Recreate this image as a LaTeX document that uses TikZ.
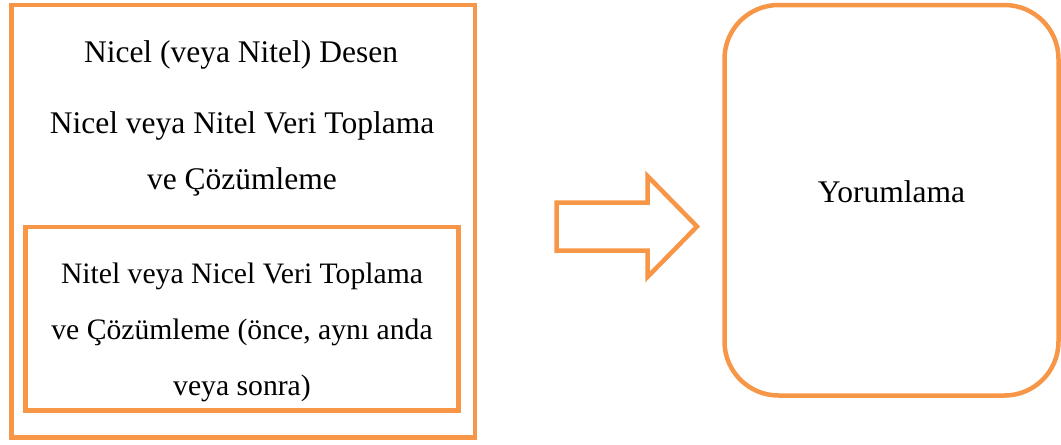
\documentclass[tikz,border=0pt]{standalone}
\usepackage{fontspec}
\setmainfont{Liberation Serif}
\usepackage{tikz}
\usetikzlibrary{positioning}

\newdimen\unitpx
\unitpx=0.381pt
\definecolor{boxorange}{HTML}{F79646}

\begin{document}
\begin{tikzpicture}[x=\unitpx,y=-\unitpx]
	\useasboundingbox (0,0) rectangle (1061,445);
	\begin{scope}[every node/.style={draw=boxorange,line width=4.5\unitpx,rectangle,inner sep=0pt}]
		\node[minimum width=463.5\unitpx,minimum height=432.5\unitpx] (outer) at (243.25,221.25) {};
		\node[minimum width=433\unitpx,minimum height=183.5\unitpx] (inner) at (242,318.75) {};
		\node[minimum width=334\unitpx,minimum height=390.5\unitpx,rounded corners=54\unitpx] (result) at (891.5,200.25) {};
	\end{scope}

	% base of a multi-line node = baseline of its last line
	\begin{scope}[every node/.style={align=center,anchor=base,inner sep=0pt,font=\fontsize{12}{21.2}\selectfont}]
		\node (design) at (241,63) {Nicel (veya Nitel) Desen};
		\node (first) at (242,189) {Nicel veya Nitel Veri Toplama\\ve Çözümleme};
		\node[font=\fontsize{11.3}{21.3}\selectfont] (second) at (242,395) {Nitel veya Nicel Veri Toplama\\ve Çözümleme (önce, aynı anda\\veya sonra)};
		\node (interpret) at (891.5,202) {Yorumlama};
	\end{scope}

	\draw[boxorange,line width=4.5\unitpx,line join=miter]
		(556.5,202.5) -- (647.5,202.5) -- (647.5,176) -- (697,226.5)
		-- (647.5,277) -- (647.5,250.5) -- (556.5,250.5) -- cycle;
\end{tikzpicture}
\end{document}
